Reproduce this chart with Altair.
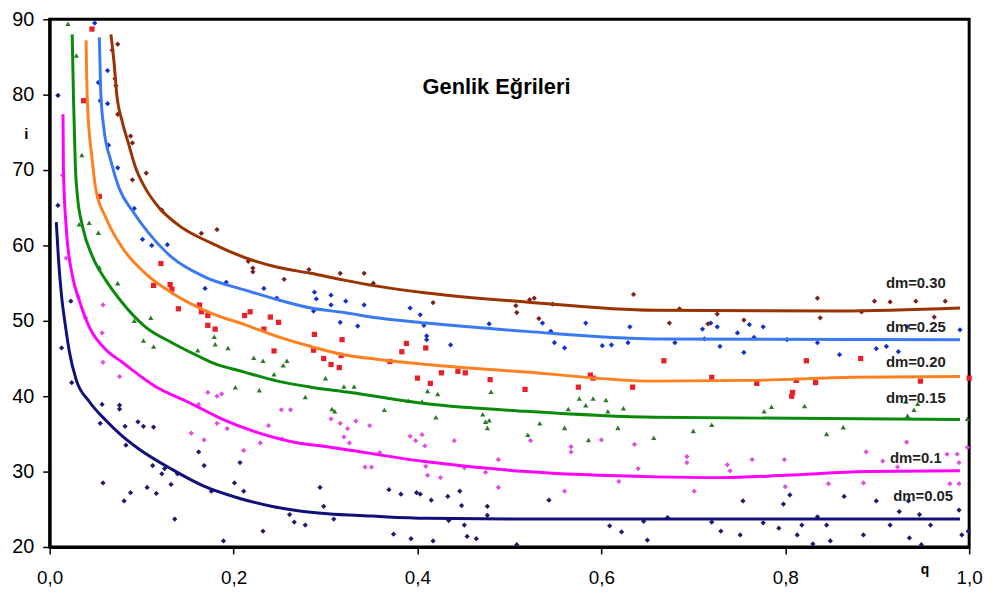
import altair as alt
import pandas as pd

series = ["dm=0.05", "dm=0.1", "dm=0.15", "dm=0.20", "dm=0.25", "dm=0.30"]
line_colors = ["#10107a", "#ff00ff", "#0a8a0a", "#ff8020", "#3a7af0", "#993300"]
point_colors = ["#1c1c6c", "#e050e0", "#2a7a2a", "#e8202a", "#1030d0", "#7a2020"]
point_shapes = ["diamond", "diamond", "triangle-up", "square", "diamond", "diamond"]

x_ticks = [0, 0.2, 0.4, 0.6, 0.8, 1.0]
y_ticks = [20, 30, 40, 50, 60, 70, 80, 90]

# fitted curves (q, i)
c005_x = [0.0072, 0.0097, 0.0126, 0.0173, 0.0216, 0.0288, 0.043, 0.061, 0.079, 0.097, 0.133, 0.169, 0.205, 0.241, 0.27, 0.302, 0.35, 0.41, 0.5, 0.658, 0.8, 0.99]
c005_y = [63.1, 58.0, 53.7, 49.2, 45.8, 42.2, 39.3, 36.8, 34.7, 33.0, 30.3, 28.0, 26.5, 25.4, 24.8, 24.4, 24.1, 23.8, 23.7, 23.7, 23.7, 23.7]
c01_x = [0.0145, 0.015, 0.018, 0.025, 0.032, 0.043, 0.061, 0.079, 0.115, 0.151, 0.187, 0.223, 0.266, 0.302, 0.41, 0.518, 0.658, 0.73, 0.80, 0.888, 0.99]
c01_y = [77.4, 69.9, 62.4, 55.8, 52.8, 49.2, 46.2, 44.5, 41.3, 39.2, 37.0, 35.3, 33.9, 33.3, 31.3, 30.0, 29.3, 29.2, 29.5, 30.0, 30.1]
c015_x = [0.0245, 0.026, 0.028, 0.030, 0.036, 0.047, 0.061, 0.079, 0.104, 0.133, 0.162, 0.176, 0.212, 0.248, 0.284, 0.327, 0.41, 0.518, 0.658, 0.99]
c015_y = [88.0, 79.1, 70.3, 66.8, 62.4, 58.4, 55.4, 52.4, 49.2, 47.1, 45.3, 44.5, 43.2, 42.0, 41.2, 40.5, 39.0, 38.0, 37.2, 36.9]
c020_x = [0.0396, 0.041, 0.0464, 0.05, 0.061, 0.079, 0.104, 0.133, 0.176, 0.212, 0.248, 0.284, 0.32, 0.356, 0.41, 0.518, 0.658, 0.766, 0.874, 0.99]
c020_y = [87.2, 79.1, 71.2, 67.6, 63.7, 59.7, 56.3, 53.7, 51.0, 49.5, 47.9, 46.6, 45.5, 44.9, 44.2, 43.2, 42.0, 42.1, 42.5, 42.6]
c025_x = [0.054, 0.0547, 0.0557, 0.059, 0.0666, 0.0755, 0.09, 0.108, 0.133, 0.169, 0.212, 0.248, 0.284, 0.32, 0.356, 0.41, 0.518, 0.658, 0.99]
c025_y = [87.6, 84.3, 80.0, 75.5, 71.2, 67.6, 64.6, 61.6, 58.4, 55.8, 54.1, 52.8, 51.7, 51.1, 50.4, 49.7, 48.6, 47.6, 47.5]
c030_x = [0.0666, 0.070, 0.073, 0.079, 0.086, 0.0935, 0.104, 0.119, 0.14, 0.176, 0.212, 0.248, 0.284, 0.32, 0.356, 0.41, 0.518, 0.658, 0.86, 0.99]
c030_y = [88.0, 84.3, 80.0, 76.4, 73.4, 70.3, 67.6, 65.0, 62.7, 60.3, 58.4, 57.1, 56.3, 55.4, 54.6, 53.7, 52.5, 51.4, 51.3, 51.7]

# measured points (q, i)
p005 = [(0.009,79.9),(0.009,65.3),(0.013,46.4),(0.023,52.6),(0.024,41.8),(0.057,38.9),(0.055,36.4),(0.076,38.8),(0.076,38.3),(0.082,36.0),(0.083,33.5),(0.058,28.5),(0.081,26.1),(0.088,27.2),(0.096,36.6),(0.102,36.0),(0.106,27.9),(0.113,35.9),(0.112,30.8),(0.116,27.1),(0.125,30.4),(0.122,29.7),(0.132,28.3),(0.136,23.7),(0.139,29.7),(0.162,32.6),(0.168,30.8),(0.176,27.4),(0.189,20.8),(0.201,28.5),(0.207,31.2),(0.211,27.4),(0.232,22.1),(0.261,24.3),(0.266,23.3),(0.278,22.9),(0.294,27.9),(0.298,25.4),(0.309,23.7),(0.369,27.6),(0.382,27.0),(0.399,27.2),(0.403,27.0),(0.415,26.2),(0.433,26.7),(0.446,27.4),(0.448,25.5),(0.476,25.4),(0.476,24.2),(0.434,23.5),(0.451,22.9),(0.374,21.7),(0.393,21.1),(0.417,20.8),(0.454,21.4),(0.464,21.1),(0.543,26.2),(0.609,22.8),(0.622,22.0),(0.65,20.9),(0.646,23.4),(0.508,20.3),(0.672,23.9),(0.72,23.3),(0.73,22.1),(0.751,21.6),(0.754,26.1),(0.776,23.2),(0.793,22.5),(0.798,25.7),(0.805,26.9),(0.813,21.6),(0.818,22.9),(0.835,24.0),(0.845,22.9),(0.83,20.4),(0.849,20.8),(0.864,26.7),(0.885,21.6),(0.899,26.1),(0.914,22.9),(0.924,24.7),(0.934,26.1),(0.935,21.2),(0.946,24.3),(0.948,20.3),(0.958,22.9),(0.989,24.9),(0.992,21.6),(0.999,22.1)]
p01 = [(0.014,69.3),(0.018,58.3),(0.031,53.2),(0.039,50.4),(0.058,52.1),(0.057,48.4),(0.058,44.5),(0.076,42.6),(0.162,38.9),(0.172,40.5),(0.182,40.0),(0.187,40.3),(0.154,35.1),(0.168,34.2),(0.182,36.4),(0.193,35.7),(0.211,32.8),(0.229,33.8),(0.238,36.1),(0.252,38.2),(0.262,38.2),(0.253,34.3),(0.306,37.0),(0.316,36.4),(0.324,35.7),(0.333,36.7),(0.348,36.1),(0.32,34.6),(0.326,33.8),(0.359,32.5),(0.343,30.6),(0.35,30.6),(0.392,34.7),(0.398,34.1),(0.405,34.9),(0.408,33.4),(0.409,30.7),(0.411,29.5),(0.425,29.2),(0.44,34.1),(0.451,30.5),(0.474,29.9),(0.488,31.6),(0.488,27.9),(0.523,34.1),(0.56,27.4),(0.567,33.3),(0.567,32.6),(0.6,34.2),(0.619,28.7),(0.64,30.4),(0.636,33.6),(0.693,32.0),(0.693,31.2),(0.737,30.9),(0.74,30.1),(0.764,31.6),(0.799,31.6),(0.701,27.4),(0.8,28.0),(0.847,28.4),(0.885,28.5),(0.888,32.6),(0.906,31.4),(0.922,30.6),(0.932,33.9),(0.976,32.3),(0.987,32.3),(0.989,31.2),(0.979,28.4),(0.989,28.4),(0.998,33.2)]
p015 = [(0.02,89.4),(0.029,85.2),(0.035,72.0),(0.043,63.0),(0.032,62.8),(0.053,61.7),(0.054,57.1),(0.074,55.0),(0.092,50.0),(0.11,50.4),(0.102,47.4),(0.113,46.6),(0.161,46.1),(0.179,47.9),(0.18,46.9),(0.194,46.4),(0.202,41.2),(0.228,40.8),(0.222,45.1),(0.232,44.7),(0.244,42.9),(0.254,44.1),(0.258,44.7),(0.278,39.9),(0.3,42.4),(0.307,38.3),(0.31,38.0),(0.32,41.3),(0.331,41.3),(0.364,38.2),(0.39,39.4),(0.405,39.3),(0.411,40.7),(0.422,40.3),(0.42,37.2),(0.471,37.6),(0.474,36.6),(0.478,36.8),(0.476,35.8),(0.48,40.6),(0.52,34.9),(0.533,36.4),(0.56,35.8),(0.564,38.3),(0.576,39.7),(0.583,38.8),(0.591,39.7),(0.605,39.5),(0.607,38.0),(0.586,34.2),(0.618,35.8),(0.624,38.4),(0.657,34.5),(0.7,35.4),(0.72,36.2),(0.777,38.0),(0.785,38.6),(0.821,38.7),(0.845,35.0),(0.863,35.9),(0.933,37.4),(0.94,38.2),(0.944,39.0),(0.931,39.3),(0.998,37.0)]
p020 = [(0.046,88.7),(0.037,79.2),(0.054,66.5),(0.121,57.6),(0.113,54.7),(0.131,54.8),(0.133,54.2),(0.14,51.6),(0.163,52.1),(0.165,51.2),(0.172,50.7),(0.172,49.4),(0.18,48.9),(0.212,50.7),(0.218,51.2),(0.233,48.9),(0.24,50.5),(0.249,49.8),(0.244,46.0),(0.288,48.2),(0.287,46.1),(0.298,45.0),(0.318,47.5),(0.306,44.2),(0.315,43.8),(0.317,45.4),(0.37,44.6),(0.383,45.9),(0.388,47.0),(0.409,46.4),(0.4,42.4),(0.414,41.7),(0.426,43.1),(0.444,43.3),(0.452,43.1),(0.479,42.2),(0.517,40.9),(0.575,41.2),(0.588,42.8),(0.591,42.4),(0.634,41.2),(0.668,44.7),(0.823,44.7),(0.882,45.0),(0.72,42.5),(0.769,41.7),(0.812,42.1),(0.833,41.8),(0.807,40.0),(0.808,40.5),(0.947,42.0),(1.0,42.4)]
p025 = [(0.049,89.5),(0.063,83.2),(0.053,81.6),(0.055,79.2),(0.063,78.8),(0.064,73.3),(0.074,70.3),(0.092,64.9),(0.101,60.8),(0.111,60.0),(0.128,60.1),(0.169,54.3),(0.192,55.1),(0.233,54.3),(0.247,53.0),(0.288,53.8),(0.29,52.9),(0.287,51.3),(0.306,53.4),(0.306,52.1),(0.322,52.6),(0.342,52.1),(0.316,49.8),(0.335,49.3),(0.392,51.7),(0.403,50.8),(0.407,49.4),(0.41,48.0),(0.41,47.5),(0.436,46.8),(0.478,49.6),(0.536,49.7),(0.545,48.6),(0.549,47.1),(0.56,46.4),(0.583,49.7),(0.601,46.7),(0.611,46.8),(0.629,47.1),(0.631,49.2),(0.71,48.9),(0.719,49.7),(0.726,49.2),(0.748,48.4),(0.761,49.5),(0.776,49.2),(0.68,47.1),(0.712,47.6),(0.729,46.6),(0.755,45.8),(0.766,47.8),(0.802,47.5),(0.835,47.1),(0.859,45.5),(0.899,46.3),(0.91,46.6),(0.923,45.9),(0.933,49.2),(0.99,48.8)]
p030 = [(0.074,86.7),(0.068,85.9),(0.071,82.1),(0.072,81.2),(0.074,77.4),(0.088,74.5),(0.09,73.6),(0.09,68.7),(0.105,69.6),(0.122,64.7),(0.165,61.6),(0.182,62.1),(0.216,57.9),(0.221,57.0),(0.221,56.5),(0.255,55.5),(0.282,56.8),(0.316,56.3),(0.342,56.3),(0.352,55.0),(0.417,52.4),(0.507,52.0),(0.508,51.1),(0.522,52.8),(0.527,53.0),(0.547,52.2),(0.635,53.5),(0.532,50.3),(0.685,51.6),(0.726,50.9),(0.674,49.7),(0.716,49.6),(0.755,50.1),(0.835,53.0),(0.838,50.4),(0.883,51.2),(0.897,52.6),(0.914,52.5),(0.942,52.6),(0.974,52.6),(0.962,50.5)]

label_text = ["dm=0.05", "dm=0.1", "dm=0.15", "dm=0.20", "dm=0.25", "dm=0.30"]
label_q = [0.950, 0.942, 0.942, 0.942, 0.942, 0.942]
label_i = [26.7, 31.8, 39.7, 44.5, 49.2, 55.0]

curves = [(c005_x, c005_y), (c01_x, c01_y), (c015_x, c015_y), (c020_x, c020_y), (c025_x, c025_y), (c030_x, c030_y)]
points = [p005, p01, p015, p020, p025, p030]

line_rows = []
for s, col, (xs, ys) in zip(series, line_colors, curves):
    for k, (a, b) in enumerate(zip(xs, ys)):
        line_rows.append({"series": s, "q": a, "i": b, "col": col, "ord": k})
pt_rows = []
for s, col, shp, pts in zip(series, point_colors, point_shapes, points):
    for a, b in pts:
        pt_rows.append({"series": s, "q": a, "i": b, "col": col, "shp": shp})
lines_df = pd.DataFrame(line_rows)
pts_df = pd.DataFrame(pt_rows)
lab_df = pd.DataFrame({"t": label_text, "q": label_q, "i": label_i})

H = 532
xscale = alt.Scale(domain=[0, 1], nice=False, zero=False)
yscale = alt.Scale(domain=[20, 90], nice=False, zero=False)
FONT = "Arial"
INK = "#000000"

xaxis = alt.Axis(values=x_ticks,
                 labelExpr="replace(format(datum.value, '.1f'), '.', ',')",
                 labelFlush=False, tickSize=7, tickWidth=1.5, tickColor=INK,
                 domain=True, domainColor=INK, domainWidth=3,
                 labelFont=FONT, labelFontSize=19, labelColor="black", labelPadding=15,
                 grid=False, title="q", titleFont=FONT, titleFontSize=14, titleFontWeight="bold",
                 titleX=882, titleY=23, titleAngle=0, titleBaseline="middle", titleAlign="center")
yaxis = alt.Axis(values=y_ticks, tickSize=7, tickWidth=1.5, tickColor=INK,
                 domain=True, domainColor=INK, domainWidth=3,
                 labelFont=FONT, labelFontSize=20, labelColor="black", labelPadding=9,
                 grid=False, title="i", titleFont=FONT, titleFontSize=15, titleFontWeight="bold",
                 titleX=-24, titleY=115, titleAngle=0, titleBaseline="middle", titleAlign="center")

pts_layer = alt.Chart(pts_df).mark_point(filled=True, size=28, opacity=1).encode(
    x=alt.X("q:Q", scale=xscale, axis=xaxis),
    y=alt.Y("i:Q", scale=yscale, axis=yaxis),
    color=alt.Color("col:N", scale=None),
    shape=alt.Shape("shp:N", scale=None),
)

line_layer = alt.Chart(lines_df).mark_line(strokeWidth=3, interpolate="monotone").encode(
    x="q:Q", y="i:Q",
    color=alt.Color("col:N", scale=None),
    detail="series:N",
    order="ord:Q",
)

lab_layer = alt.Chart(lab_df).mark_text(font=FONT, fontSize=15, fontWeight="bold",
                                        color="#222222", align="center", baseline="middle").encode(
    x="q:Q", y="i:Q", text="t:N")

chart = alt.layer(pts_layer, line_layer, lab_layer).properties(
    width=927, height=H,
    background="white",
    autosize=alt.AutoSizeParams(type="none"),
    padding={"left": 42, "top": 9, "right": 20, "bottom": 40},
    title=alt.TitleParams("Genlik Eğrileri", anchor="middle", dx=-13, dy=90, offset=0,
                          font=FONT, fontSize=22, fontWeight="bold", color="black"),
).configure_view(stroke=INK, strokeWidth=3)

chart.save("out.html", embed_options={"renderer": "svg", "actions": False})
